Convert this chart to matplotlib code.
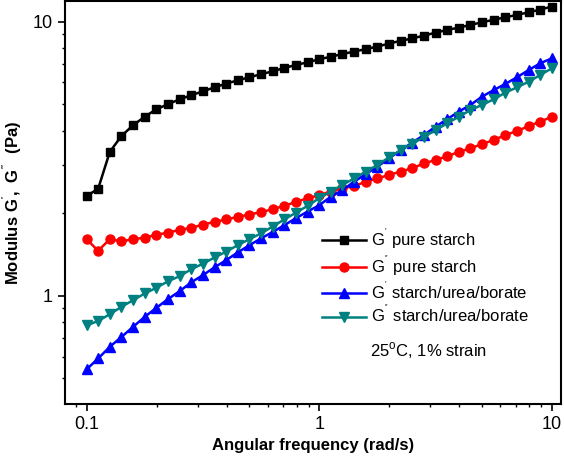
import numpy as np
import matplotlib
matplotlib.use("Agg")
import matplotlib.pyplot as plt

plt.rcParams['font.family'] = ['Liberation Sans', 'DejaVu Sans']
plt.rcParams['mathtext.fontset'] = 'custom'
plt.rcParams['mathtext.rm'] = 'Liberation Sans'
plt.rcParams['mathtext.bf'] = 'Liberation Sans:bold'

# angular frequency, 20 points per decade from 0.1 to 10 rad/s
freq = [0.1, 0.1122, 0.1259, 0.1413, 0.1585, 0.1778, 0.1995, 0.2239, 0.2512, 0.2818,
        0.3162, 0.3548, 0.3981, 0.4467, 0.5012, 0.5623, 0.6310, 0.7079, 0.7943, 0.8913,
        1.0, 1.122, 1.259, 1.413, 1.585, 1.778, 1.995, 2.239, 2.512, 2.818,
        3.162, 3.548, 3.981, 4.467, 5.012, 5.623, 6.310, 7.079, 7.943, 8.913, 10.0]

g1_pure = [2.31, 2.46, 3.35, 3.83, 4.19, 4.50, 4.79, 5.00, 5.21, 5.39,
           5.57, 5.76, 5.94, 6.11, 6.27, 6.43, 6.59, 6.78, 6.95, 7.11,
           7.29, 7.45, 7.62, 7.78, 7.94, 8.11, 8.32, 8.51, 8.69, 8.89,
           9.12, 9.33, 9.51, 9.73, 9.95, 10.16, 10.37, 10.59, 10.81, 11.07, 11.35]

g2_pure = [1.61, 1.46, 1.61, 1.58, 1.61, 1.63, 1.67, 1.70, 1.74, 1.77,
           1.82, 1.86, 1.90, 1.94, 1.98, 2.02, 2.07, 2.13, 2.20, 2.27,
           2.33, 2.40, 2.47, 2.51, 2.61, 2.68, 2.76, 2.84, 2.92, 3.04,
           3.13, 3.23, 3.35, 3.45, 3.58, 3.70, 3.86, 3.99, 4.16, 4.32, 4.50]

g1_sub = [0.539, 0.591, 0.652, 0.708, 0.771, 0.838, 0.904, 0.973, 1.04, 1.12,
          1.19, 1.27, 1.35, 1.44, 1.53, 1.62, 1.71, 1.81, 1.92, 2.03,
          2.14, 2.30, 2.43, 2.61, 2.78, 2.96, 3.17, 3.40, 3.62, 3.86,
          4.14, 4.41, 4.70, 4.97, 5.33, 5.63, 5.93, 6.27, 6.66, 7.05, 7.35]

g2_sub = [0.78, 0.81, 0.857, 0.912, 0.964, 1.02, 1.07, 1.13, 1.18, 1.25,
          1.31, 1.38, 1.45, 1.53, 1.61, 1.69, 1.79, 1.90, 2.01, 2.13,
          2.27, 2.40, 2.54, 2.68, 2.84, 3.00, 3.20, 3.40, 3.58, 3.80,
          4.02, 4.26, 4.50, 4.76, 4.97, 5.21, 5.51, 5.76, 6.04, 6.39, 6.76]

fig = plt.figure(figsize=(5.64, 4.65), dpi=100)
ax = fig.add_axes([0.115, 0.131, 0.880, 0.867])

ax.plot(freq, g1_pure, color='black', marker='s', ms=6, lw=1.8, label="G$^{'}$ pure starch")
ax.plot(freq, g2_pure, color='#ff0000', marker='o', ms=6.5, lw=1.8, label="G$^{''}$ pure starch")
ax.plot(freq, g1_sub, color='#0000ff', marker='^', ms=7, lw=1.8, label="G$^{'}$ starch/urea/borate")
ax.plot(freq, g2_sub, color='#008080', marker='v', ms=7, lw=1.8, label="G$^{''}$ starch/urea/borate")

ax.set_xscale('log')
ax.set_yscale('log')
ax.set_xlim(0.0807, 10.96)
ax.set_ylim(0.403, 11.9)
ax.set_xticks([0.1, 1, 10])
ax.set_xticklabels(['0.1', '1', '10'])
ax.set_yticks([1, 10])
ax.set_yticklabels(['1', '10'])
ax.yaxis.set_minor_formatter(matplotlib.ticker.NullFormatter())
ax.xaxis.set_minor_formatter(matplotlib.ticker.NullFormatter())

ax.tick_params(which='major', direction='out', length=5, width=1.2, labelsize=13)
ax.tick_params(which='minor', direction='out', length=2.5, width=1.0)
for s in ax.spines.values():
    s.set_linewidth(1.5)

ax.set_xlabel('Angular frequency (rad/s)', fontsize=12, fontweight='bold')
ax.set_ylabel(r"$\mathbf{Modulus\ G^{'},\ G^{''}\ \ (Pa)}$", fontsize=12)
ax.yaxis.set_label_coords(-0.083, 0.5)

ax.legend(loc='upper left', bbox_to_anchor=(0.495, 0.47), frameon=False, fontsize=12,
          handlelength=2.6, handletextpad=0.3, labelspacing=0.12, borderpad=0.2)
ax.text(0.614, 0.118, r"25$^{\rm o}$C, 1% strain", transform=ax.transAxes, fontsize=12)

fig.savefig('out.png', dpi=100)
